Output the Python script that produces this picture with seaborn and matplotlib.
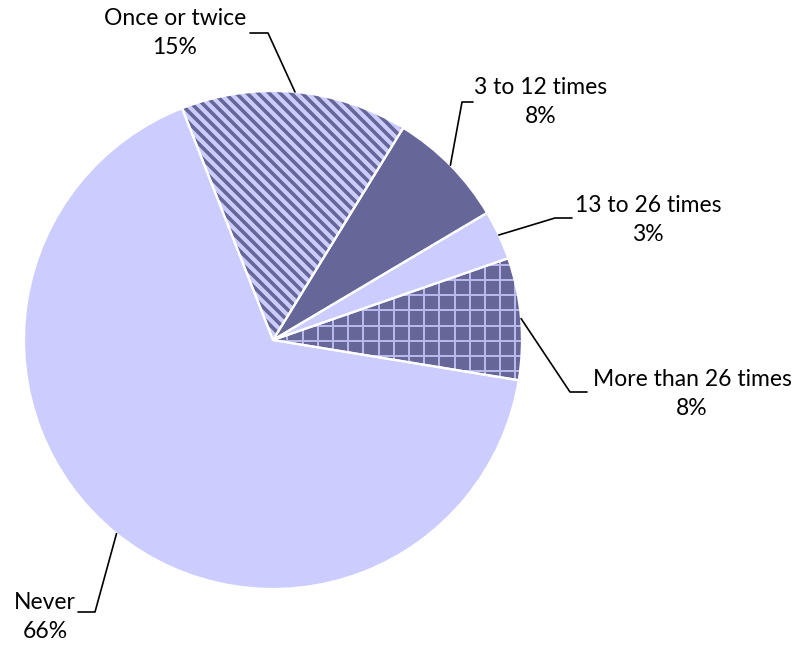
import matplotlib.pyplot as plt
import numpy as np
import seaborn as sns
from matplotlib.collections import LineCollection

# survey answers (share of respondents, %)
labels = ["Never", "Once or twice", "3 to 12 times", "13 to 26 times", "More than 26 times"]
shares = [66.4, 14.7, 7.7, 3.2, 7.9]
colors = ["#CCCCFF", "#CCCCFF", "#666699", "#CCCCFF", "#666699"]
hatches = [None, "stripes", None, None, "grid"]

# label placement in pixels (text centre, elbow of the leader, end of the leader)
label_px = [(45, 617), (175, 33), (541, 102), (648, 220), (692, 394)]
elbow_px = [(95, 612), (268, 33), (462, 102), (555, 218), (570, 392)]
end_px = [(78, 612), (250, 33), (473, 102), (572, 218), (587, 392)]

W, H = 797, 646
CX, CY, R = 273, 340, 249


def px(p):
    return ((p[0] - CX) / R, (CY - p[1]) / R)


sns.set_theme(style="white")
plt.rcParams["font.family"] = ["Lato", "DejaVu Sans"]

fig = plt.figure(figsize=(W / 100, H / 100), dpi=100)
ax = fig.add_axes([0, 0, 1, 1])

wedges, _ = ax.pie(
    shares,
    colors=colors,
    startangle=-9.3,
    counterclock=False,
    radius=1,
    wedgeprops=dict(linewidth=0),
)

for w, kind in zip(wedges, hatches):
    if kind is None:
        continue
    segs = []
    if kind == "stripes":
        step = 11 / R
        for c in np.arange(-3, 3, step):
            segs.append([(-1.5, c + 1.5), (1.5, c - 1.5)])
        lc = LineCollection(segs, colors="#666699", linewidths=2.6, zorder=3)
    else:
        step = 15.2 / R
        off = 0.6 * step
        for c in np.arange(-1.2, 1.2, step):
            segs.append([(c + off, -1.2), (c + off, 1.2)])
            segs.append([(-1.2, c + off), (1.2, c + off)])
        lc = LineCollection(segs, colors="#BBBBEE", linewidths=1.4, zorder=3)
    ax.add_collection(lc)
    lc.set_clip_path(w)

# white borders between slices on top of the patterns
border, _ = ax.pie(
    shares,
    colors=["none"] * len(shares),
    startangle=-9.3,
    counterclock=False,
    radius=1,
    wedgeprops=dict(linewidth=1.6, edgecolor="white", fill=False, zorder=4),
)

for w, lab, val, tp, ep, dp in zip(wedges, labels, shares, label_px, elbow_px, end_px):
    mid = np.deg2rad((w.theta1 + w.theta2) / 2)
    start = (np.cos(mid), np.sin(mid))
    e = px(ep)
    d = px(dp)
    ax.plot([start[0], e[0], d[0]], [start[1], e[1], d[1]], color="black", lw=1.2, zorder=5)
    t = px(tp)
    ax.text(t[0], t[1], f"{lab}\n{round(val):.0f}%", ha="center", va="center",
            fontsize=16.5, linespacing=1.42, color="black")

ax.set_aspect("auto")
ax.set_xlim(-CX / R, (W - CX) / R)
ax.set_ylim(-(H - CY) / R, CY / R)
ax.axis("off")

fig.savefig("out.png", dpi=100)
